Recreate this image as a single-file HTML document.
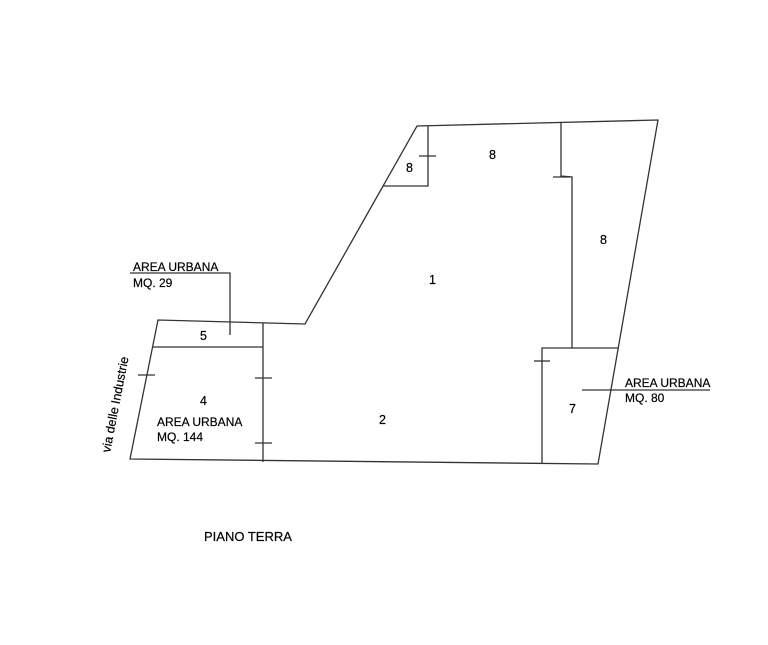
<!DOCTYPE html>
<html><head><meta charset="utf-8"><style>
html,body{margin:0;padding:0;background:#fff;}
svg{display:block;}
text{font-family:"Liberation Sans",Arial,sans-serif;fill:#000;stroke:#000;stroke-width:0.2;}
</style></head><body>
<svg width="768" height="645" viewBox="0 0 768 645" xmlns="http://www.w3.org/2000/svg">
<g stroke="#333" stroke-width="1.3" fill="none">
<polygon points="417,126 658,120 598,464 130,459 158,320 305,324"/>
<polyline points="383,186 428,186 428,126"/>
<line x1="419" y1="156" x2="436" y2="156"/>
<polyline points="561,122 561,176 572,177 572,348"/>
<line x1="553" y1="177" x2="570" y2="177"/>
<polyline points="618,348 542,348 542,464"/>
<line x1="534" y1="361" x2="550" y2="361"/>
<line x1="582" y1="390" x2="710" y2="390"/>
<line x1="263" y1="323" x2="263" y2="462"/>
<line x1="255" y1="378" x2="272" y2="378"/>
<line x1="255" y1="443" x2="272" y2="443"/>
<line x1="152" y1="347" x2="263" y2="347"/>
<polyline points="130,273 230,273 230,335"/>
<line x1="138" y1="375" x2="155" y2="375"/>
</g>
<g font-size="12.5">
<text x="133" y="271" font-size="12">AREA URBANA</text>
<text x="133" y="287" font-size="12">MQ. 29</text>
<text x="200" y="340">5</text>
<text x="200" y="405">4</text>
<text x="157" y="426" font-size="12">AREA URBANA</text>
<text x="157" y="441" font-size="12">MQ. 144</text>
<text x="379" y="424">2</text>
<text x="429" y="284">1</text>
<text x="406" y="172">8</text>
<text x="489" y="159">8</text>
<text x="600" y="244">8</text>
<text x="569" y="413">7</text>
<text x="625" y="387" font-size="12">AREA URBANA</text>
<text x="625" y="402" font-size="12">MQ. 80</text>
<text x="204" y="541" font-size="13">PIANO TERRA</text>
<text x="0" y="0" font-size="12.5" transform="translate(110,453) rotate(-79)">via delle Industrie</text>
</g>
</svg>
</body></html>
